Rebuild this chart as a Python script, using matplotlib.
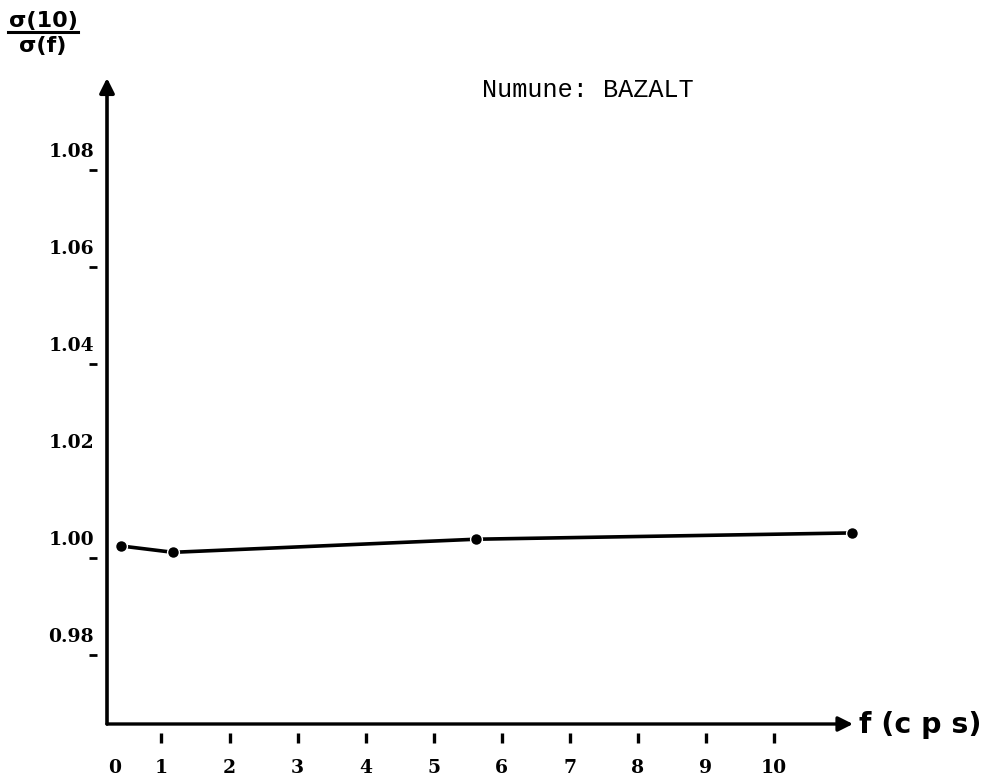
import matplotlib
matplotlib.use("Agg")
import matplotlib.pyplot as plt
import matplotlib.transforms as mtransforms
from matplotlib.lines import Line2D

# ---- data ----
freq = [0.41, 1.17, 5.62, 11.15]
ratio = [1.0025, 1.0012, 1.0039, 1.0052]

x_ticks = [0, 1, 2, 3, 4, 5, 6, 7, 8, 9, 10]
x_tick_labels = ["0", "1", "2", "3", "4", "5", "6", "7", "8", "9", "10"]
x_dash_ticks = [1, 2, 3, 4, 5, 6, 7, 8, 9, 10]

y_ticks = [0.98, 1.00, 1.02, 1.04, 1.06, 1.08]
y_tick_labels = ["0.98", "1.00", "1.02", "1.04", "1.06", "1.08"]
y_dash_ticks = [0.98, 1.00, 1.04, 1.06, 1.08]

title = "Numune: BAZALT"
x_label = "f (c p s)"
y_num = "σ(10)"
y_den = "σ(f)"

W, H = 994, 781
fig = plt.figure(figsize=(W / 100, H / 100), dpi=100)
ax = fig.add_axes([107 / W, 1 - 724 / H, (853 - 107) / W, (724 - 78) / H])
ax.set_xlim(0.2, 11.16)
ax.set_ylim(0.9658, 1.0990)
for s in ax.spines.values():
    s.set_visible(False)
ax.set_xticks([])
ax.set_yticks([])

# axes arrows
ax.annotate("", xy=(0, 1), xytext=(0, 0), xycoords="axes fraction",
            arrowprops=dict(arrowstyle="-|>", lw=2.6, color="black",
                            mutation_scale=22, shrinkA=0, shrinkB=0))
ax.annotate("", xy=(1, 0), xytext=(0, 0), xycoords="axes fraction",
            arrowprops=dict(arrowstyle="-|>", lw=2.4, color="black",
                            mutation_scale=22, shrinkA=0, shrinkB=0))

def off(dx, dy):
    return mtransforms.ScaledTranslation(dx / 100, dy / 100, fig.dpi_scale_trans)

tick_font = dict(family="DejaVu Serif", weight="bold", size=13.5)

# y tick labels and dashes
ty = mtransforms.blended_transform_factory(ax.transAxes, ax.transData)
for v, lab in zip(y_ticks, y_tick_labels):
    ax.text(0, v, lab, transform=ty + off(-13, 18), ha="right", va="center",
            **tick_font)
ax.plot([0] * len(y_dash_ticks), y_dash_ticks, ls="none", marker="_",
        ms=6, mew=2.0, color="black", transform=ty + off(-14, 0),
        clip_on=False)

# x tick labels and dashes
tx = mtransforms.blended_transform_factory(ax.transData, ax.transAxes)
xl = ax.get_xlim()[0]
for v, lab in zip(x_ticks, x_tick_labels):
    if v < xl:
        ax.text(xl, 0, lab, transform=tx + off(8, -44), ha="center",
                va="center", **tick_font)
    else:
        ax.text(v, 0, lab, transform=tx + off(0, -44), ha="center",
                va="center", **tick_font)
ax.plot(x_dash_ticks, [0] * len(x_dash_ticks), ls="none", marker="|",
        ms=7, mew=2.4, color="black", transform=tx + off(0, -14),
        clip_on=False)

# data
ax.plot(freq, ratio, color="black", lw=2.6, marker="o", ms=8,
        mfc="black", mec="white", mew=1.5, clip_on=False, zorder=3)
ax.plot(freq, ratio, ls="none", marker="o", ms=6.5, color="black",
        clip_on=False, zorder=4)

# texts
fig.text(482 / W, 1 - 90 / H, title, ha="left", va="center",
         family="Liberation Mono", size=18.2)
fig.text(859 / W, 1 - 725 / H, x_label, ha="left", va="center",
         family="DejaVu Sans", weight="bold", size=20.5)
fig.text(43 / W, 1 - 21 / H, y_num, ha="center", va="center",
         family="DejaVu Sans", weight="bold", size=16)
fig.text(43 / W, 1 - 46 / H, y_den, ha="center", va="center",
         family="DejaVu Sans", weight="bold", size=16)
fig.add_artist(Line2D([8 / W, 78 / W], [1 - 32 / H, 1 - 32 / H],
                      color="black", lw=2.2, transform=fig.transFigure))

fig.savefig("out.png", dpi=100)
